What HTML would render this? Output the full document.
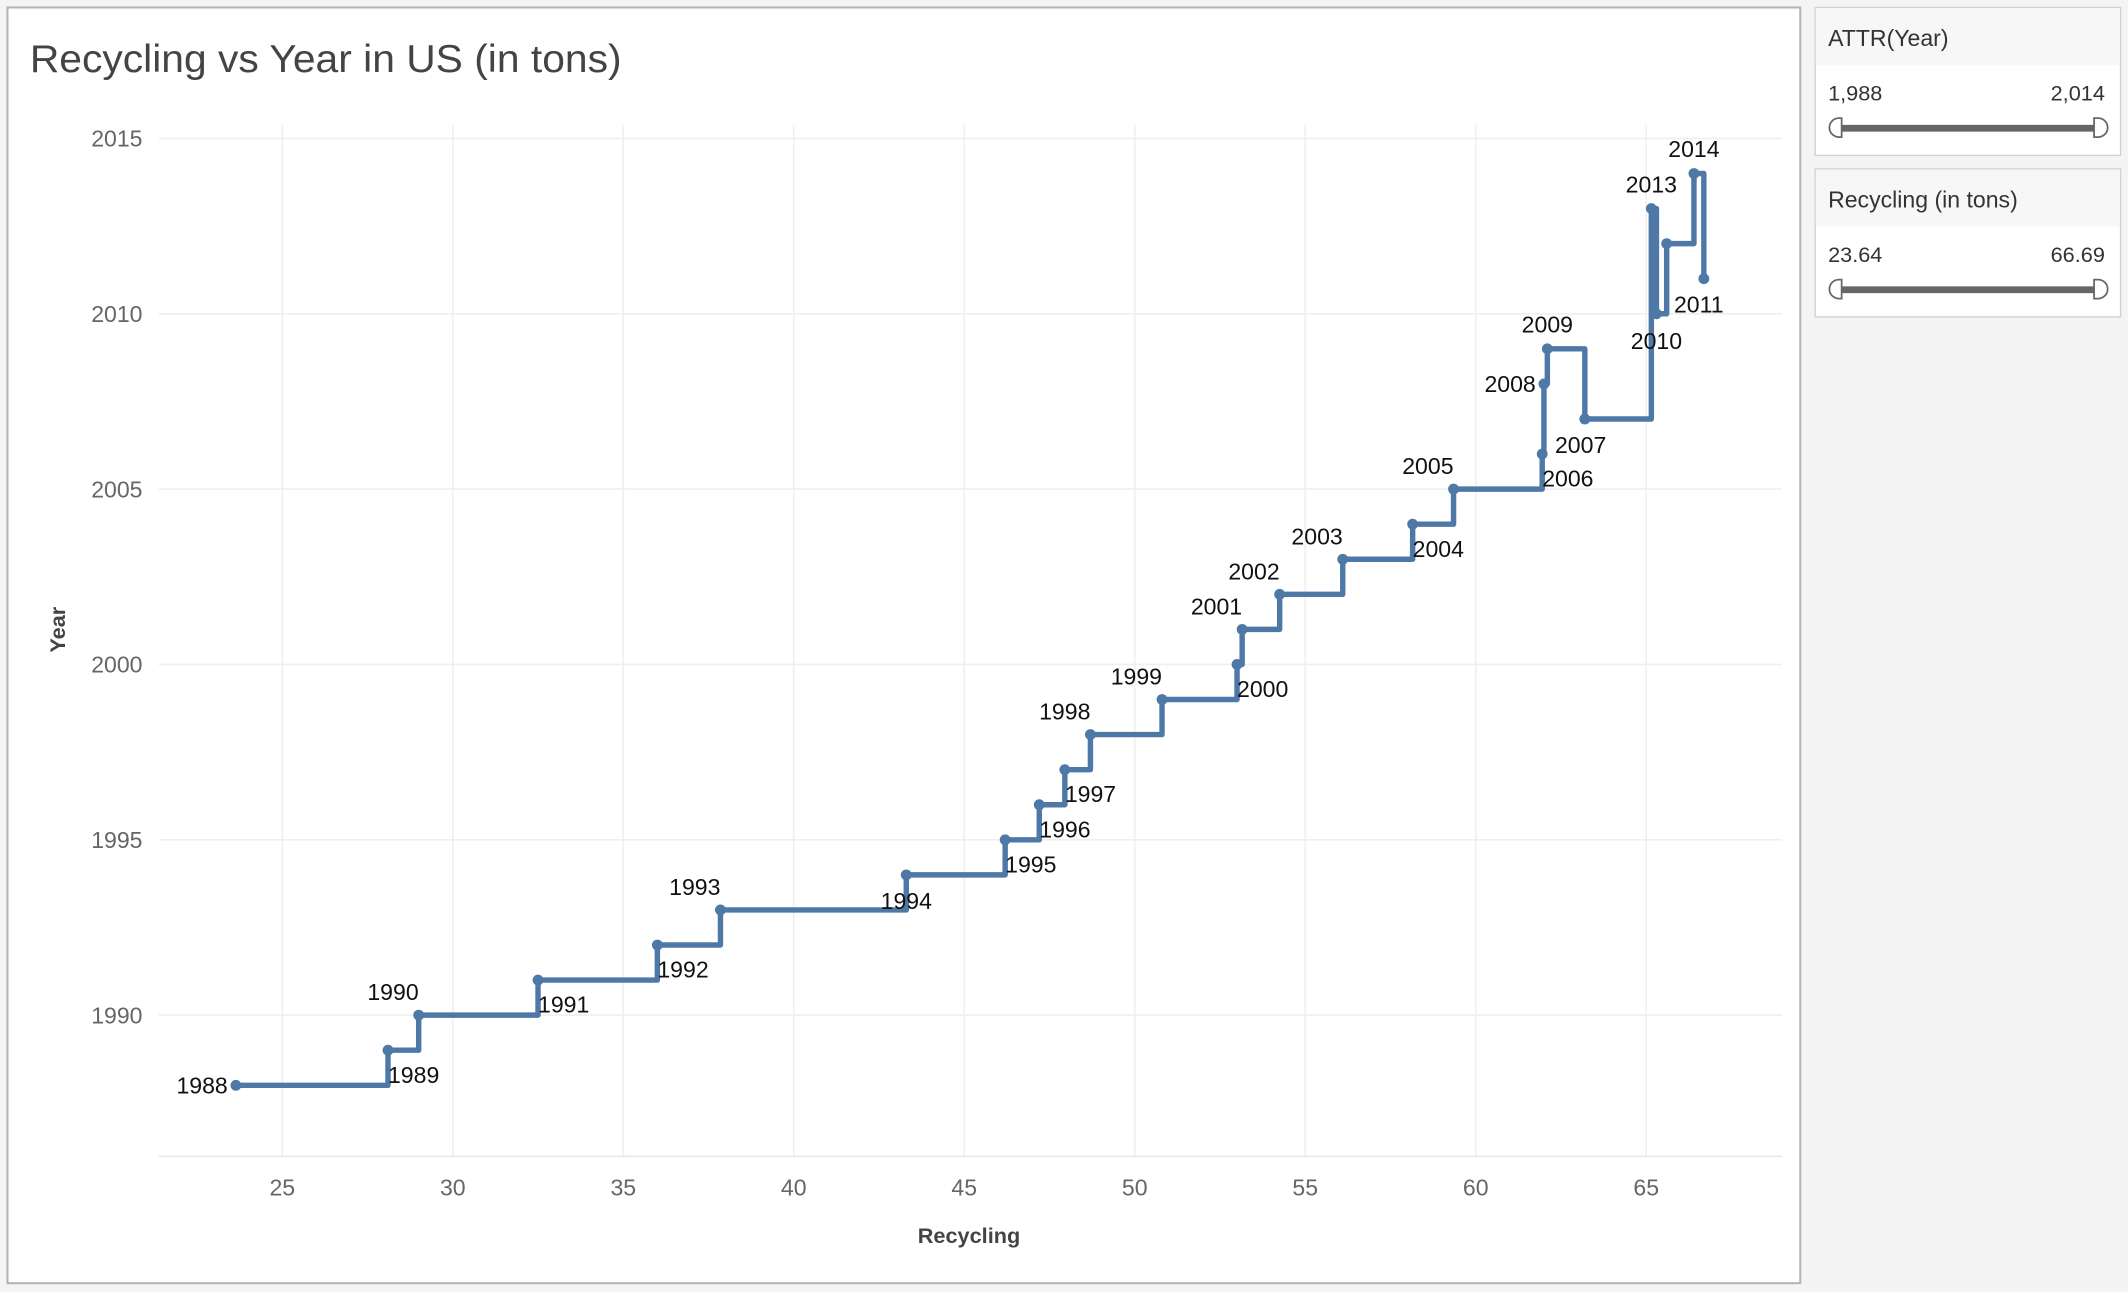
<!DOCTYPE html>
<html><head><meta charset="utf-8"><style>
html,body{margin:0;padding:0;background:#f5f5f5;width:2128px;height:1292px;overflow:hidden}
svg{display:block;font-family:"Liberation Sans",sans-serif}
</style></head><body>
<svg id="chart" width="2128" height="1292" viewBox="0 0 1568 952" xmlns="http://www.w3.org/2000/svg">
<rect x="0" y="0" width="1568" height="952" fill="#f4f4f4"/>
<rect x="5.5" y="5.5" width="1321" height="940" fill="#fff" stroke="#b4b4b4" stroke-width="1.5"/>
<text x="22" y="53" font-size="29" fill="#444" textLength="436" lengthAdjust="spacingAndGlyphs">Recycling vs Year in US (in tons)</text>
<g id="grid"></g>
<g id="axes"></g>
<g id="series"></g>
<g id="labels"></g>
<text x="714" y="916" font-size="16" font-weight="bold" fill="#444" text-anchor="middle">Recycling</text>
<text transform="translate(48,464) rotate(-90)" font-size="16" font-weight="bold" fill="#444" text-anchor="middle">Year</text>

<g>
<rect x="1337.5" y="5.5" width="225" height="109" fill="#fff" stroke="#d0d0d0"/>
<rect x="1338" y="6" width="224" height="42" fill="#f7f7f7"/>
<text x="1347" y="34" font-size="17" fill="#333">ATTR(Year)</text>
<text x="1347" y="74" font-size="16" fill="#333">1,988</text>
<text x="1551" y="74" font-size="16" fill="#333" text-anchor="end">2,014</text>
<rect x="1352" y="92" width="192" height="5" fill="#666"/>
<path d="M1357,87 h-2 a7,7 0 0 0 0,14 h2 z" fill="#fff" stroke="#666" stroke-width="1.3"/>
<path d="M1543,87 h3 a7,7 0 0 1 0,14 h-3 z" fill="#fff" stroke="#666" stroke-width="1.3"/>
</g>
<g>
<rect x="1337.5" y="124.5" width="225" height="109" fill="#fff" stroke="#d0d0d0"/>
<rect x="1338" y="125" width="224" height="42" fill="#f7f7f7"/>
<text x="1347" y="153" font-size="17" fill="#333">Recycling (in tons)</text>
<text x="1347" y="193" font-size="16" fill="#333">23.64</text>
<text x="1551" y="193" font-size="16" fill="#333" text-anchor="end">66.69</text>
<rect x="1352" y="211" width="192" height="5" fill="#666"/>
<path d="M1357,206 h-2 a7,7 0 0 0 0,14 h2 z" fill="#fff" stroke="#666" stroke-width="1.3"/>
<path d="M1543,206 h3 a7,7 0 0 1 0,14 h-3 z" fill="#fff" stroke="#666" stroke-width="1.3"/>
</g>
</svg>
<script>
const years = [1988,1989,1990,1991,1992,1993,1994,1995,1996,1997,1998,1999,2000,2001,2002,2003,2004,2005,2006,2007,2008,2009,2010,2011,2012,2013,2014];
const recycling = [23.64,28.1,29.0,32.5,36.0,37.85,43.3,46.2,47.2,47.95,48.7,50.8,53.0,53.15,54.25,56.1,58.15,59.35,61.95,63.2,62.0,62.1,65.3,66.69,65.6,65.15,66.4];
const labelPos = ['L','B','A','B','B','A','C','B','B','B','A','A','B','A','A','A','B','A','B','E','L','T','D','E','N','M','M'];
const xTicks = [25,30,35,40,45,50,55,60,65];
const yTicks = [1990,1995,2000,2005,2010,2015];

const NS='http://www.w3.org/2000/svg';
const X0=117,X1=1313,Y0=92,Y1=852;
const xs=v=>208+(v-25)*25.125;
const ys=v=>748-(v-1990)*25.84;
function mk(tag,attrs,parent){const e=document.createElementNS(NS,tag);for(const k in attrs)e.setAttribute(k,attrs[k]);document.getElementById(parent).appendChild(e);return e;}

xTicks.forEach(t=>{
  const l=mk('line',{x1:xs(t),x2:xs(t),y1:Y0,y2:Y1,stroke:'#efefef','stroke-width':1.2},'grid');
  
  
  const tx=mk('text',{x:xs(t),y:881,'font-size':17,fill:'#666','text-anchor':'middle'},'axes');
  tx.textContent=t;
  
  
});
yTicks.forEach(t=>{
  const l=mk('line',{x1:X0,x2:X1,y1:ys(t),y2:ys(t),stroke:'#efefef','stroke-width':1.2},'grid');
  
  
  const tx=mk('text',{x:105,y:ys(t)+6,'font-size':17,fill:'#666','text-anchor':'end'},'axes');
  tx.textContent=t;
  
  
});
const bl=mk('line',{x1:X0,x2:X1,y1:Y1,y2:Y1,stroke:'#e6e6e6','stroke-width':1},'axes');



const idx=years.map((_,i)=>i).sort((a,b)=>recycling[a]-recycling[b]);
let d='';
idx.forEach((i,k)=>{
  const x=xs(recycling[i]),y=ys(years[i]);
  if(k===0)d+=`M${x},${y}`;else d+=` H${x} V${y}`;
});
const p=mk('path',{d:d,fill:'none',stroke:'#4e79a7','stroke-width':4,'stroke-linejoin':'round'},'series');



years.forEach((yr,i)=>{
  const x=xs(recycling[i]),y=ys(yr);
  const c=mk('circle',{cx:x,cy:y,r:4,fill:'#4e79a7'},'series');
  
  
  const pos=labelPos[i];
  if(pos==='N')return;
  let a={x:x,y:y,anchor:'start'};
  if(pos==='L')a={x:x-6,y:y+6,anchor:'end'};
  if(pos==='B')a={x:x,y:y+24,anchor:'start'};
  if(pos==='E')a={x:x-22,y:y+25,anchor:'start'};
  if(pos==='A')a={x:x,y:y-11,anchor:'end'};
  if(pos==='M')a={x:x,y:y-12,anchor:'middle'};
  if(pos==='C')a={x:x,y:y+25,anchor:'middle'};
  if(pos==='T')a={x:x,y:y-12,anchor:'middle'};
  if(pos==='D')a={x:x,y:y+26,anchor:'middle'};
  const t=mk('text',{x:a.x,y:a.y,'font-size':17,fill:'#111','text-anchor':a.anchor},'labels');
  t.textContent=yr;
  
  
});
</script>
</body></html>
